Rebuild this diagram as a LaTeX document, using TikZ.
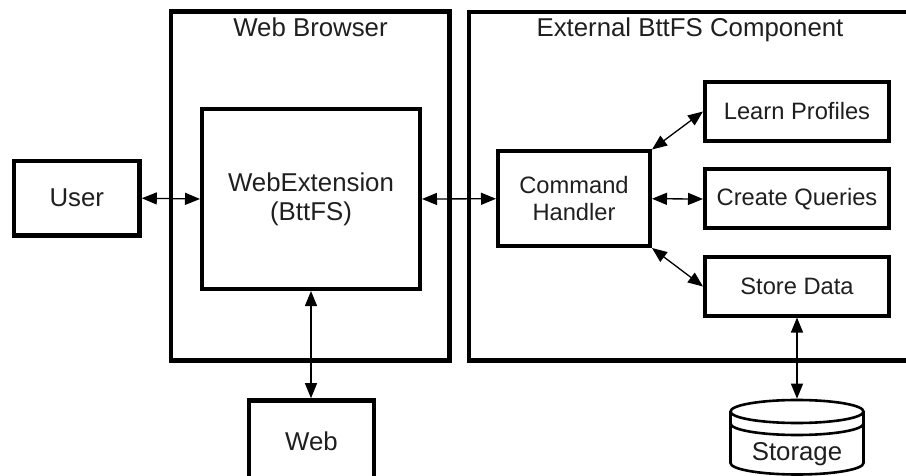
\documentclass[tikz,border=0pt]{standalone}
\usepackage{fontspec}
\setmainfont{Liberation Sans}
\usetikzlibrary{arrows.meta}

\tikzset{
  lbl/.style={font=\fontsize{23.7}{27}\selectfont, text=black!88},
  biglbl/.style={font=\fontsize{25.8}{29}\selectfont, text=black!88},
  title/.style={biglbl, anchor=base, inner sep=0pt},
  container/.style={draw, line width=4.6pt, inner sep=0pt},
  block/.style={draw, line width=4pt, inner sep=0pt, align=center, lbl},
  heavyblock/.style={draw, line width=4.6pt, inner sep=0pt, align=center, biglbl},
  link/.style={line width=1.3pt, >={Triangle[length=15pt,width=12pt]}, <->},
}

\begin{document}
\begin{tikzpicture}[x=1pt,y=-1pt]
  \useasboundingbox (0,0) rectangle (906,476);
  \clip (0,0) rectangle (906,476);

  % containers
  \node[container, minimum width=278.5pt, minimum height=349pt] (browser) at (310.25,186) {};
  \node[title] (browsertitle) at (310.5,37) {Web Browser};
  \node[container, minimum width=442pt, minimum height=348.5pt] (external) at (690,186.25) {};
  \node[title] (externaltitle) at (690,37) {External BttFS Component};

  % blocks
  \node[heavyblock, minimum width=125.5pt, minimum height=74.5pt] (user) at (76.75,198.25) {User};
  \node[block, biglbl, minimum width=218pt, minimum height=180pt] (webext) at (311,199) {WebExtension\\(BttFS)};
  \node[heavyblock, minimum width=125pt, minimum height=81pt] (web) at (311.5,441) {Web};
  \node[block, minimum width=152pt, minimum height=94.5pt] (handler) at (574,198.75) {Command\\Handler};
  \node[block, minimum width=184pt, minimum height=59pt] (learn) at (797,111.5) {Learn Profiles};
  \node[block, minimum width=184pt, minimum height=59pt] (queries) at (797,199) {Create Queries};
  \node[block, minimum width=184pt, minimum height=58pt] (store) at (797,286.5) {Store Data};

  % storage cylinder
  \begin{scope}[line width=2.6pt]
    \fill[white] (730.5,411.5) -- (730.5,463) arc[start angle=180,end angle=360,x radius=66.5pt,y radius=11.5pt] -- (863.5,411.5) -- cycle;
    \draw (730.5,411.5) -- (730.5,463) arc[start angle=180,end angle=360,x radius=66.5pt,y radius=11.5pt] -- (863.5,411.5);
    \draw (730.5,423.5) arc[start angle=180,end angle=360,x radius=66.5pt,y radius=11.5pt];
    \draw[fill=white] (797,411.5) ellipse[x radius=66.5pt, y radius=11.5pt];
  \end{scope}
  \coordinate (storagetop) at (797,398.7);
  \node[biglbl, anchor=base, inner sep=0pt] (storage) at (797,460) {Storage};

  % connectors
  \draw[link] (user.east) -- (webext.west);
  \draw[link] (webext.east) -- (handler.west);
  \draw[link] (webext.south) -- (webext.south |- web.north);
  \draw[link] (handler.north east) -- (learn.west);
  \draw[link] (handler.east) -- (queries.west);
  \draw[link] (handler.south east) -- (store.west);
  \draw[link] (store.south) -- (storagetop);
\end{tikzpicture}
\end{document}
